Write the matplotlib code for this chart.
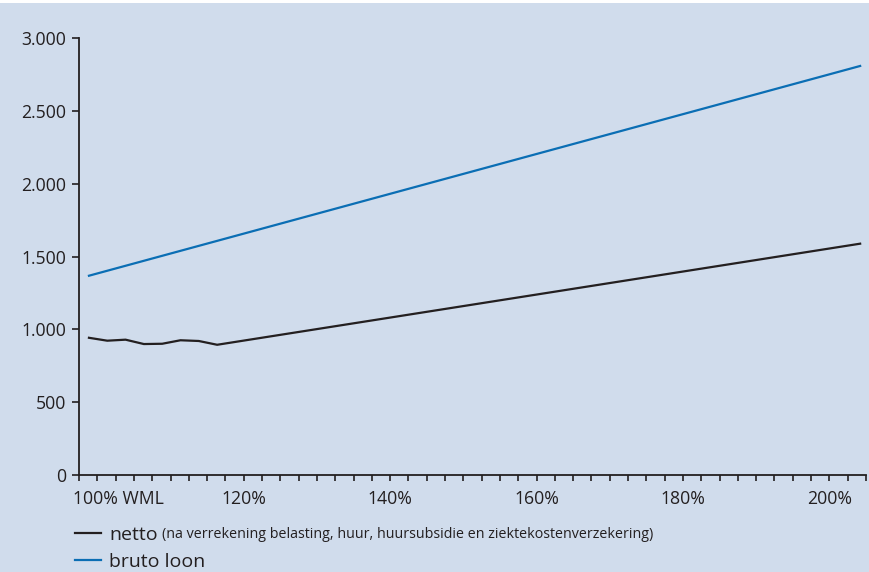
import matplotlib
matplotlib.use("Agg")
import matplotlib.pyplot as plt
import matplotlib.transforms as mtransforms
from matplotlib.patches import Rectangle

plt.rcParams['font.family'] = ['Open Sans', 'DejaVu Sans']

# inkomen als % van het wettelijk minimumloon (WML)
netto_x = [98.86, 101.36, 103.86, 106.36, 108.87, 111.36, 113.86, 116.37, 204.2]
netto_y = [942, 922, 929, 899, 901, 925, 920, 894, 1588]
bruto_x = [98.86, 204.2]
bruto_y = [1368, 2808]

xtick_pos = [100, 120, 140, 160, 180, 200]
xtick_labels = ['100% WML', '120%', '140%', '160%', '180%', '200%']
ytick_pos = [0, 500, 1000, 1500, 2000, 2500, 3000]
ytick_labels = ['0', '500', '1.000', '1.500', '2.000', '2.500', '3.000']

bg = '#d0dcec'
ink = '#231f20'
blue = '#0a6eb4'

fig = plt.figure(figsize=(8.69, 5.72), dpi=100, facecolor=bg)
ax = fig.add_axes([79/869, 1-475/572, (866-79)/869, (475-38)/572])
ax.set_facecolor(bg)

l_netto, = ax.plot(netto_x, netto_y, color=ink, lw=1.6, solid_joinstyle='round')
l_bruto, = ax.plot(bruto_x, bruto_y, color=blue, lw=1.6)

ax.set_xlim(97.5, 205)
ax.set_ylim(0, 3000)
for s in ['top', 'right']:
    ax.spines[s].set_visible(False)
for s in ['left', 'bottom']:
    ax.spines[s].set_color(ink)
    ax.spines[s].set_linewidth(1.3)

ax.set_yticks(ytick_pos)
ax.set_yticklabels(ytick_labels)
ax.set_xticks(xtick_pos)
ax.set_xticklabels(xtick_labels)
ax.set_xticks([97.5 + 2.5*i for i in range(44)], minor=True)
ax.tick_params(axis='y', direction='out', length=5, width=1.2, color=ink,
               labelsize=12.7, labelcolor=ink, pad=4)
ax.tick_params(axis='x', which='both', direction='out', length=4, width=1.2,
               color=ink, labelsize=12.7, labelcolor=ink, pad=7)

# "100% WML": laat "100%" onder de tick staan
lab0 = ax.get_xticklabels()[0]
lab0.set_horizontalalignment('left')
lab0.set_transform(lab0.get_transform() +
                   mtransforms.ScaledTranslation(-24.5/100, 0, fig.dpi_scale_trans))

leg = ax.legend([l_netto, l_bruto], ['netto', 'bruto loon'],
                loc='upper left', bbox_to_anchor=(75/869, 1-526/572),
                bbox_transform=fig.transFigure, frameon=False,
                fontsize=14, handlelength=1.35, handletextpad=0.42,
                labelspacing=0.45, borderpad=0, borderaxespad=0)
for t in leg.get_texts():
    t.set_color(ink)

fig.canvas.draw()
bb = leg.get_texts()[0].get_window_extent()
fig.text((bb.x1 + 4)/869, (bb.y0 + bb.y1)/2/572,
         '(na verrekening belasting, huur, huursubsidie en ziektekostenverzekering)',
         fontsize=10.3, color=ink, va='center', ha='left')

fig.patches.append(Rectangle((0, 1-3/572), 1, 3/572, transform=fig.transFigure,
                             facecolor='white', edgecolor='none'))

fig.savefig('out.png', dpi=100, facecolor=bg)
